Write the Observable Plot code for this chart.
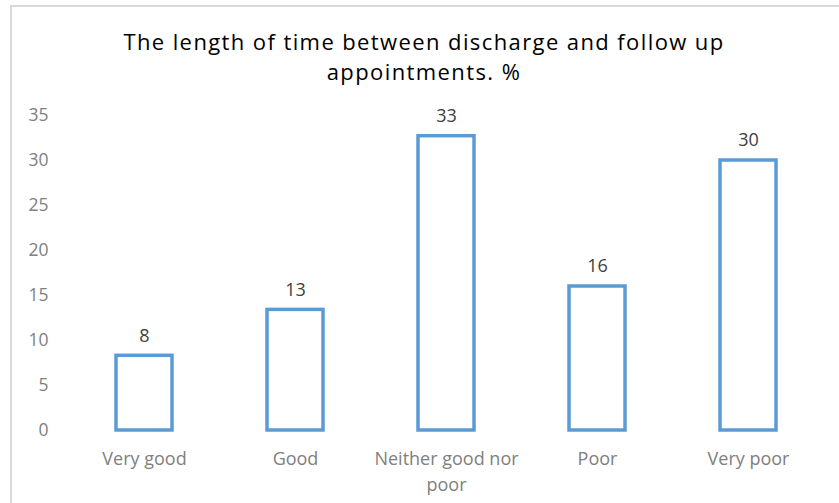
<!DOCTYPE html>
<html>
<head>
<meta charset="utf-8">
<script src="https://cdn.jsdelivr.net/npm/d3@7"></script>
<script src="https://cdn.jsdelivr.net/npm/@observablehq/plot@0.6"></script>
<style>
  html, body { margin: 0; padding: 0; background: #fff; }
  #wrap { position: relative; width: 839px; height: 503px; overflow: hidden; background: #fff; }
  #frame { position: absolute; left: 10px; top: 5px; width: 900px; height: 600px;
           border-left: 2px solid #d9d9d9; border-top: 2px solid #d9d9d9; }
  #title { position: absolute; left: 0; top: 26px; width: 848px; text-align: center;
           font-family: "Open Sans", sans-serif; font-size: 22px; line-height: 30px;
           letter-spacing: 1.4px; color: #000; }
  #chart { position: absolute; left: 0; top: 95px; }
</style>
</head>
<body>
<div id="wrap">
  <div id="frame"></div>
  <div id="title">The length of time between discharge and follow up<br>appointments. %</div>
  <div id="chart"></div>
</div>
<script>
const categories = ["Very good", "Good", "Neither good nor poor", "Poor", "Very poor"];
const axisLabels = ["Very good", "Good", "Neither good nor\npoor", "Poor", "Very poor"];
const values = [8.3, 13.4, 32.7, 16.0, 30.0];
const valueLabels = ["8", "13", "33", "16", "30"];
const yTicks = [0, 5, 10, 15, 20, 25, 30, 35];

const data = categories.map((c, i) => ({category: c, value: values[i], label: valueLabels[i], axis: axisLabels[i]}));
const labelOf = new Map(categories.map((c, i) => [c, axisLabels[i]]));

const plot = Plot.plot({
  width: 839,
  height: 408,
  marginLeft: 67,
  marginRight: 15,
  marginTop: 20,
  marginBottom: 73,
  style: {fontFamily: "Open Sans, sans-serif", background: "transparent", overflow: "visible"},
  x: {domain: categories, paddingInner: 0.63, paddingOuter: 0.31, label: null},
  y: {domain: [0, 35], label: null},
  marks: [
    Plot.axisY({ticks: yTicks, tickSize: 0, tickPadding: 19, fontSize: 17.5, fill: "#808080", label: null}),
    Plot.axisX({tickSize: 0, tickPadding: 16, fontSize: 18, fill: "#808080", label: null,
                tickFormat: d => labelOf.get(d), lineHeight: 1.45}),
    Plot.barY(data, {x: "category", y: "value", fill: "white", stroke: "#5b9bd5", strokeWidth: 3.5}),
    Plot.text(data, {x: "category", y: "value", text: "label", dy: -20, fontSize: 18, fill: "#404040"})
  ]
});
document.getElementById("chart").appendChild(plot);
</script>
</body>
</html>
